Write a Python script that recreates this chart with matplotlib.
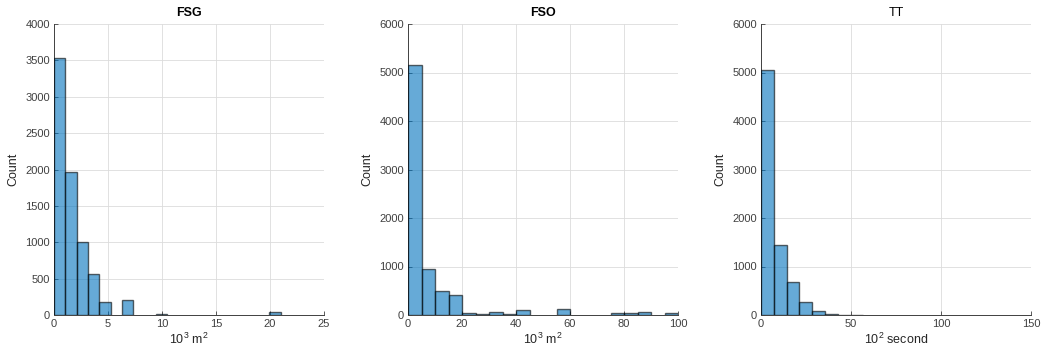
import numpy as np
import matplotlib.pyplot as plt

plt.rcParams['font.family'] = ['Liberation Sans', 'DejaVu Sans']
plt.rcParams['mathtext.fontset'] = 'custom'
plt.rcParams['mathtext.rm'] = 'Liberation Sans'
plt.rcParams['mathtext.default'] = 'regular'

# FSG histogram (10^3 m^2), bin width 1.05
fsg_width = 1.05
fsg_counts = [3530, 1970, 1000, 560, 180, 0, 210, 0, 0, 20,
              0, 0, 0, 0, 0, 0, 0, 0, 0, 45]

# FSO histogram (10^3 m^2), bin width 5
fso_width = 5
fso_counts = [5150, 940, 490, 410, 35, 30, 55, 20, 100, 0,
              0, 130, 0, 0, 0, 50, 40, 70, 0, 35]

# TT histogram (10^2 second), bin width ~7.1
tt_width = 7.1
tt_counts = [5050, 1440, 680, 260, 80, 15, 3, 1]

panels = [
    ('FSG', fsg_width, fsg_counts, (0, 25), [0, 5, 10, 15, 20, 25], (0, 4000), np.arange(0, 4001, 500), r'10$^3$ m$^2$', 'bold'),
    ('FSO', fso_width, fso_counts, (0, 100), [0, 20, 40, 60, 80, 100], (0, 6000), np.arange(0, 6001, 1000), r'10$^3$ m$^2$', 'bold'),
    ('TT', tt_width, tt_counts, (0, 150), [0, 50, 100, 150], (0, 6000), np.arange(0, 6001, 1000), r'10$^2$ second', 'normal'),
]

fig = plt.figure(figsize=(10.42, 3.56), dpi=100)
lefts = [54, 408, 761]
W, H = 1042, 356
ax_w = 270
ax_bottom = 356 - 315
ax_h = 315 - 24

for left, (title, bw, counts, xlim, xticks, ylim, yticks, xlabel, weight) in zip(lefts, panels):
    ax = fig.add_axes([left / W, ax_bottom / H, ax_w / W, ax_h / H])
    counts = np.array(counts)
    edges = np.arange(len(counts)) * bw
    mask = counts > 0
    ax.bar(edges[mask], counts[mask], width=bw, align='edge',
           color='#0072BD', alpha=0.6, edgecolor='black', linewidth=1.0, zorder=3)
    ax.set_xlim(*xlim)
    ax.set_ylim(*ylim)
    ax.set_xticks(xticks)
    ax.set_yticks(yticks)
    ax.grid(True, color='#dcdcdc', linewidth=0.6, zorder=0)
    ax.set_axisbelow(True)
    for s in ['top', 'right']:
        ax.spines[s].set_visible(False)
    for s in ['left', 'bottom']:
        ax.spines[s].set_color('#404040')
        ax.spines[s].set_linewidth(0.7)
    ax.tick_params(direction='in', length=3, width=0.6, colors='#404040', labelsize=8, pad=3)
    ax.set_title(title, fontsize=9, fontweight=weight, pad=6)
    ax.set_xlabel(xlabel, fontsize=9, color='#262626', labelpad=2)
    ax.set_ylabel('Count', fontsize=9, color='#262626', labelpad=4)

fig.savefig('out.png', dpi=100)
